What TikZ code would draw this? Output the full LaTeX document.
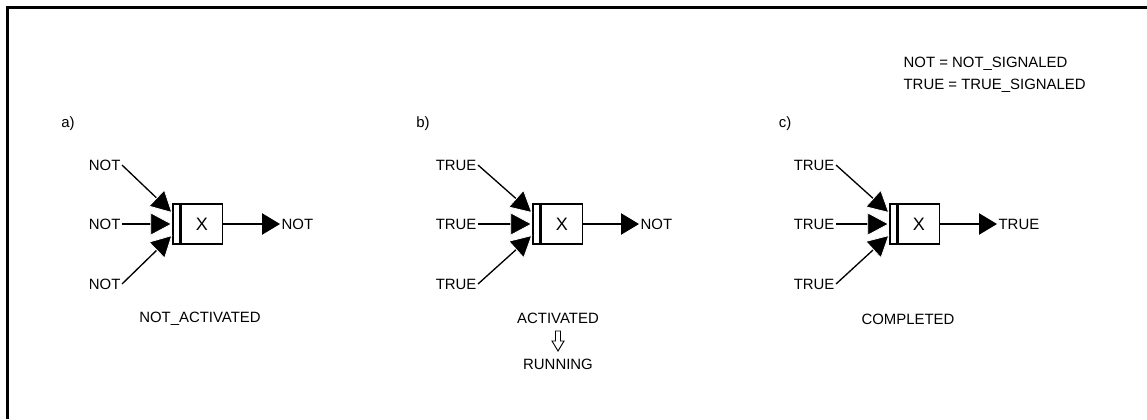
\documentclass[tikz,border=0pt]{standalone}
\usepackage{fontspec}
\setmainfont{Liberation Sans}
\usetikzlibrary{arrows.meta,calc}
\tikzset{
  lbl/.style={inner sep=1pt, font=\fontsize{11.2}{13}\selectfont},
  strip/.style={draw, line width=1pt, minimum width=5.25pt, minimum height=30pt, inner sep=0pt},
  gate/.style={draw, line width=1pt, minimum width=30.75pt, minimum height=30pt, inner sep=0pt,
    anchor=west, font=\fontsize{13.5}{15}\selectfont},
  sig/.style={line width=1pt, -{Triangle[length=16.5pt,width=17.5pt,color=white,fill=black,line width=0.6pt]}},
  res/.style={line width=1pt, -{Triangle[length=13.5pt,width=16pt]}},
}
\begin{document}
\begin{tikzpicture}[x=0.75pt,y=-0.75pt]
  \useasboundingbox (0,0) rectangle (1147,419);
  \draw[line width=2.25pt] (1147,7.5) -- (7.5,7.5) -- (7.5,419);
  % legend
  \node[lbl, anchor=west] (l1) at (902,64) {NOT = NOT\_SIGNALED};
  \node[lbl, anchor=west] (l2) at (902,86) {TRUE = TRUE\_SIGNALED};
  % a)
  \node[lbl] (pa) at (68,124) {a)};
  \node[strip] (sa) at (176.5,224) {};
  \node[gate] (ga) at (sa.east) {X};
  \node[lbl, anchor=east] (ta) at (122,165) {NOT};
  \node[lbl, anchor=east] (ma) at (122,224) {NOT};
  \node[lbl, anchor=east] (ba) at (122,284) {NOT};
  \node[lbl, anchor=west] (oa) at (280,224) {NOT};
  \node[lbl] (sta) at (200,319) {NOT\_ACTIVATED};
  \draw[sig] (ta.east) -- ($(sa.west)+(0,-11)$);
  \draw[sig] (ba.east) -- ($(sa.west)+(0,11)$);
  \draw[sig] (ma.east) -- (sa.west);
  \draw[res] (ga.east) -- (oa.west);
  % b)
  \node[lbl] (pb) at (423,124) {b)};
  \node[strip] (sb) at (536.5,224) {};
  \node[gate] (gb) at (sb.east) {X};
  \node[lbl, anchor=east] (tb) at (478,165) {TRUE};
  \node[lbl, anchor=east] (mb) at (478,224) {TRUE};
  \node[lbl, anchor=east] (bb) at (478,284) {TRUE};
  \node[lbl, anchor=west] (ob) at (639,224) {NOT};
  \node[lbl] (stb) at (558,318) {ACTIVATED};
  \node[lbl] (rb) at (558,364) {RUNNING};
  \draw[sig] (tb.east) -- ($(sb.west)+(0,-11)$);
  \draw[sig] (bb.east) -- ($(sb.west)+(0,11)$);
  \draw[sig] (mb.east) -- (sb.west);
  \draw[res] (gb.east) -- (ob.west);
  \draw[line width=0.7pt, shift={($(stb.south)!0.5!(rb.north)$)}]
    (-2.5,-10) -- (2.5,-10) -- (2.5,0) -- (6,0) -- (0,10) -- (-6,0) -- (-2.5,0) -- cycle;
  % c)
  \node[lbl] (pc) at (785,124) {c)};
  \node[strip] (sc) at (893.5,224) {};
  \node[gate] (gc) at (sc.east) {X};
  \node[lbl, anchor=east] (tc) at (836,165) {TRUE};
  \node[lbl, anchor=east] (mc) at (836,224) {TRUE};
  \node[lbl, anchor=east] (bc) at (836,284) {TRUE};
  \node[lbl, anchor=west] (oc) at (997,224) {TRUE};
  \node[lbl] (stc) at (908,319) {COMPLETED};
  \draw[sig] (tc.east) -- ($(sc.west)+(0,-11)$);
  \draw[sig] (bc.east) -- ($(sc.west)+(0,11)$);
  \draw[sig] (mc.east) -- (sc.west);
  \draw[res] (gc.east) -- (oc.west);
\end{tikzpicture}
\end{document}
